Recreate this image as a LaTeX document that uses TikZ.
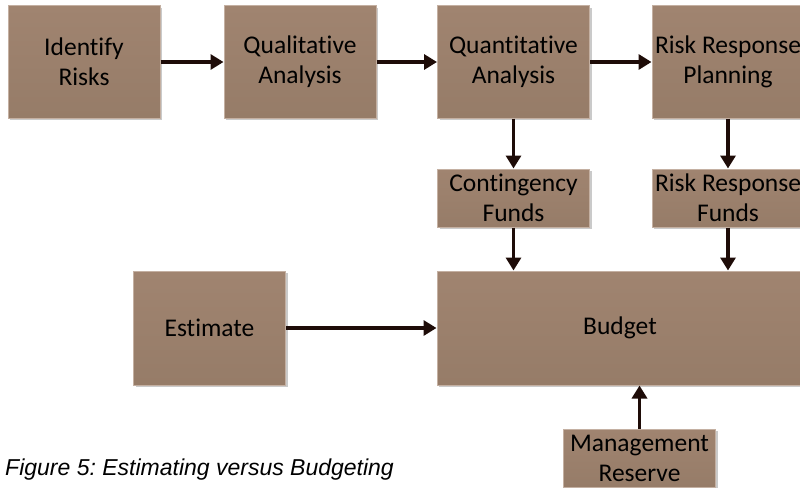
\documentclass[tikz,border=0pt]{standalone}
\usepackage{fontspec}
\setmainfont[Ligatures=NoCommon]{Carlito}
\newfontfamily\capfont{Liberation Sans}
\usetikzlibrary{arrows.meta,shadows}
\definecolor{boxtop}{RGB}{160,132,112}
\definecolor{boxbot}{RGB}{150,124,104}
\definecolor{boxedge}{RGB}{196,176,162}
\definecolor{arrowcol}{RGB}{30,12,8}
\tikzset{
  riskbox/.style={rectangle, top color=boxtop, bottom color=boxbot, draw=boxedge, line width=1pt,
    drop shadow={shadow xshift=2pt, shadow yshift=-2pt, fill=black!35, opacity=0.6},
    align=center, inner sep=0pt, font=\fontsize{25.5}{30}\selectfont, text=black},
  bigbox/.style={riskbox, minimum width=152pt, minimum height=112pt},
  smallbox/.style={riskbox, minimum width=152pt, minimum height=58pt},
  flow/.style={draw=arrowcol, line width=3.8pt, -{Triangle[length=13pt,width=15pt]}}
}
\begin{document}
\frenchspacing
\begin{tikzpicture}[x=1pt,y=-1pt]
\useasboundingbox (0,0) rectangle (800,487);
\node[bigbox] (ident) at (84,62) {Identify\\Risks};
\node[bigbox] (qual) at (300,62) {Qualitative\\Analysis};
\node[bigbox] (quant) at (513.5,62) {Quantitative\\Analysis};
\node[bigbox] (rrp) at (728,62) {Risk Response\\Planning};
\node[smallbox] (cont) at (513.5,198) {Contingency\\Funds};
\node[smallbox] (rrf) at (728,198) {Risk Response\\Funds};
\node[riskbox, minimum width=366pt, minimum height=114pt] (budget) at (620,328) {Budget};
\node[bigbox, minimum height=114pt] (est) at (209.5,328) {Estimate};
\node[smallbox] (mgmt) at (639.5,458) {Management\\Reserve};
\node[anchor=base west, inner sep=0pt, font=\capfont\itshape\fontsize{23}{27}\selectfont] (cap) at (5,475) {Figure 5: Estimating versus Budgeting};
\draw[flow] (ident.east) -- (qual.west);
\draw[flow] (qual.east) -- (quant.west);
\draw[flow] (quant.east) -- (rrp.west);
\draw[flow] (quant.south) -- (cont.north);
\draw[flow] (rrp.south) -- (rrf.north);
\draw[flow] (cont.south) -- (cont.south |- budget.north);
\draw[flow] (rrf.south) -- (rrf.south |- budget.north);
\draw[flow] (est.east) -- (budget.west);
\draw[flow] (mgmt.north) -- (mgmt.north |- budget.south);
\end{tikzpicture}
\end{document}
